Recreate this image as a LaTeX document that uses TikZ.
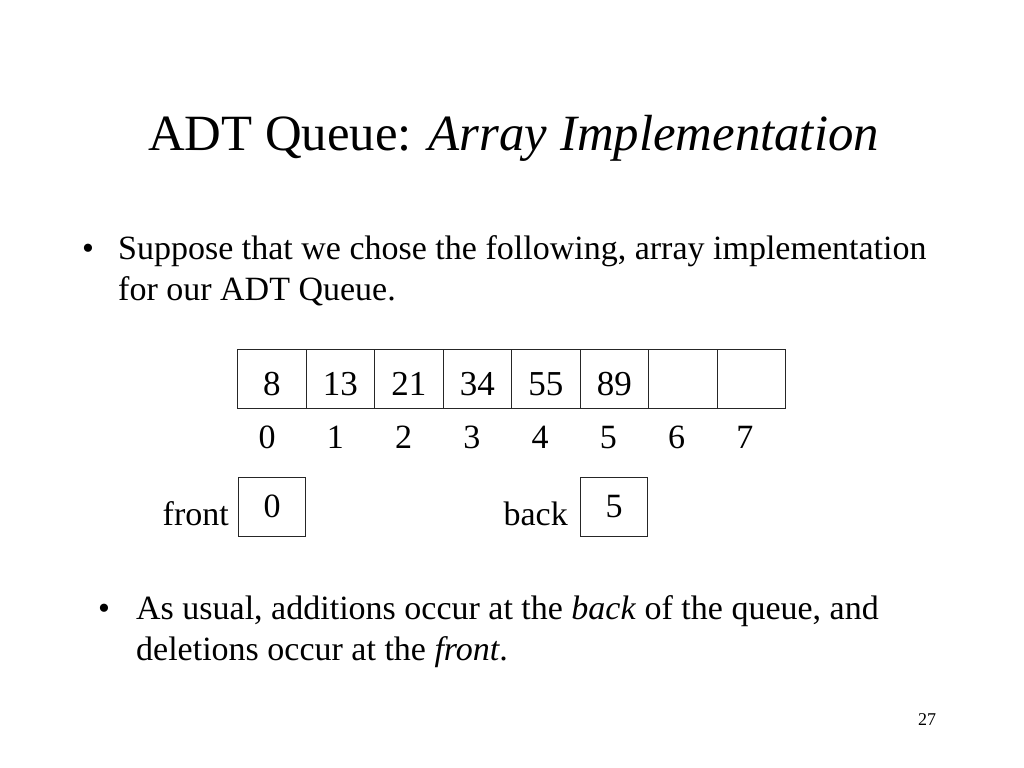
\documentclass[tikz,border=0pt]{standalone}
\usepackage{fontspec}
\setmainfont{Liberation Serif}
\newcommand{\titlesize}{\fontsize{50.8bp}{60bp}\selectfont}
\newcommand{\textsize}{\fontsize{34bp}{41bp}\selectfont}
\newcommand{\cellsize}{\fontsize{35bp}{41bp}\selectfont}
\tikzset{
  cell/.style={draw=black!85, line width=1bp, minimum width=68.5bp, minimum height=59bp, inner sep=0pt, text height=33bp, text depth=0pt, font=\cellsize},
  ptrbox/.style={cell, minimum width=67bp, text height=21bp, font=\textsize},
  idx/.style={font=\textsize, anchor=base, inner sep=0pt},
  txtline/.style={font=\textsize, anchor=base west, inner sep=0pt},
}
\begin{document}
\begin{tikzpicture}[x=1bp, y=-1bp]
			\useasboundingbox[fill=white] (0,0) rectangle (1024,768);
			% title
			\node[font=\titlesize, anchor=base west, inner sep=0pt] (title) at (148,150) {ADT Queue: \textit{Array Implementation}};
			
			% first bullet
			\node[idx] (bul1) at (88,259) {•};
			\node[txtline] (sup1) at (118,259) {Suppose that we chose the following, array implementation};
			\node[txtline] (sup2) at (118,300) {for our ADT Queue.};
			
			% array
			\node[cell] (c0) at (271.75,379) {8};
			\node[cell] (c1) at (340.25,379) {13};
			\node[cell] (c2) at (408.75,379) {21};
			\node[cell] (c3) at (477.25,379) {34};
			\node[cell] (c4) at (545.75,379) {55};
			\node[cell] (c5) at (614.25,379) {89};
			\node[cell] (c6) at (682.75,379) {};
			\node[cell] (c7) at (751.25,379) {};
			
			% indices
			\node[idx] (i0) at (267,448) {0};
			\node[idx] (i1) at (335.4,448) {1};
			\node[idx] (i2) at (403.6,448) {2};
			\node[idx] (i3) at (471.9,448) {3};
			\node[idx] (i4) at (540.1,448) {4};
			\node[idx] (i5) at (608.4,448) {5};
			\node[idx] (i6) at (676.6,448) {6};
			\node[idx] (i7) at (744.9,448) {7};
			
			% front and back
			\node[ptrbox] (fbox) at (272,507) {0};
			\node[font=\textsize, anchor=base east, inner sep=0pt] (flbl) at (229,525) {front};
			\node[ptrbox] (bbox) at (614,507) {5};
			\node[font=\textsize, anchor=base east, inner sep=0pt] (blbl) at (568,525) {back};
			
			% second bullet
			\node[idx] (bul2) at (104,619) {•};
			\node[txtline] (add1) at (136,619) {As usual, additions occur at the \textit{back} of the queue, and};
			\node[txtline] (add2) at (136,660) {deletions occur at the \textit{front}.};
			
			% page number
			\node[font=\fontsize{18bp}{20bp}\selectfont, anchor=base, inner sep=0pt] (page) at (927,725) {27};
		\end{tikzpicture}
\end{document}
